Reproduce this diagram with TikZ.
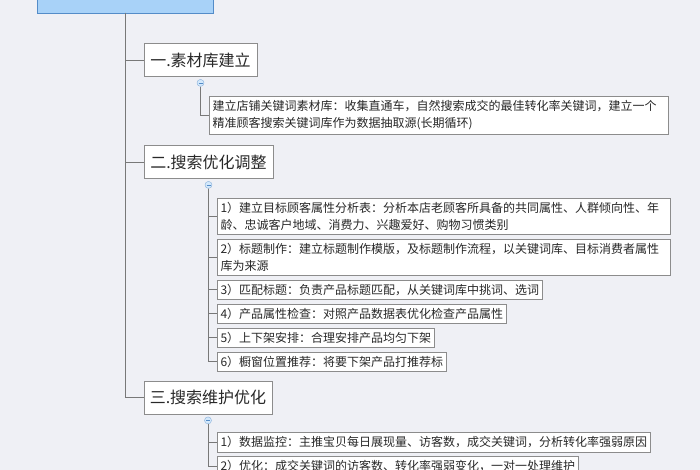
\documentclass[tikz,border=0pt]{standalone}
\usepackage{fontspec}
\setmainfont{Noto Sans CJK SC}
\usetikzlibrary{positioning,calc}
\definecolor{bgpage}{RGB}{239,240,245}
\definecolor{rootfill}{RGB}{168,210,248}
\definecolor{rootline}{RGB}{84,140,200}
\definecolor{boxline}{RGB}{140,140,140}
\definecolor{linkgray}{RGB}{120,120,120}
\definecolor{textgray}{RGB}{40,40,40}
\tikzset{main base/.style={draw=boxline,fill=white,text=textgray}, }
\tikzset{main node/.style={rectangle,main base,font=\fontsize{16}{16}\selectfont,
    inner xsep=6pt,minimum height=33pt}, }
\tikzset{main node2/.style={rectangle,main base,line width=1pt,
    font=\fontsize{12}{17}\selectfont,inner xsep=3pt,inner ysep=4pt,align=left}, }
\tikzset{wide/.style={text width=#1}, }
\tikzset{linea/.style={draw=linkgray,thick}}
\tikzset{primo/.style={circle,draw=rootline!70,fill=rootfill!50,inner sep=0pt,minimum size=7pt,
    path picture={\draw[rootline,line width=0.5pt] ([xshift=-2pt]path picture bounding box.center)
      -- ([xshift=2pt]path picture bounding box.center);}}, }

\begin{document}
\begin{tikzpicture}[x=1pt,y=-1pt]
  \useasboundingbox (0,0) rectangle (700,470);
  \clip (0,0) rectangle (700,470);
  \fill[bgpage] (0,0) rectangle (700,470);
  % root (cut at the top)
  \node[draw=rootline,fill=rootfill,minimum width=176pt,minimum height=40pt,anchor=south] (0) at (125,13) {};
  % headings
  \node[main node] (h1) at (200.5,60) {一.素材库建立};
  \node[main node] (h2) at (208.5,162) {二.搜索优化调整};
  \node[main node] (h3) at (208,397.5) {三.搜索维护优化};
  \node[primo] (c1) [below=2.5pt of h1] {};
  \node[primo] (c2) [below=2.5pt of h2] {};
  \node[primo] (c3) [below=2.5pt of h3] {};
  % details
  \node[main node2,wide=453pt,anchor=north west] (d11) at (209,96)
    {建立店铺关键词素材库：收集直通车，自然搜索成交的最佳转化率关键词，建立一个\\精准顾客搜索关键词库作为数据抽取源(长期循环)};
  \node[main node2,wide=447pt,anchor=north west] (d21) at (217,198)
    {1）建立目标顾客属性分析表：分析本店老顾客所具备的共同属性、人群倾向性、年\\龄、忠诚客户地域、消费力、兴趣爱好、购物习惯类别};
  \node[main node2,wide=447pt] (d22) [below=3.5pt of d21.south west,anchor=north west]
    {2）标题制作：建立标题制作模版，及标题制作流程，以关键词库、目标消费者属性\\库为来源};
  \node[main node2] (d23) [below=3.5pt of d22.south west,anchor=north west] {3）匹配标题：负责产品标题匹配，从关键词库中挑词、选词};
  \node[main node2] (d24) [below=3.5pt of d23.south west,anchor=north west] {4）产品属性检查：对照产品数据表优化检查产品属性};
  \node[main node2] (d25) [below=3.5pt of d24.south west,anchor=north west] {5）上下架安排：合理安排产品均匀下架};
  \node[main node2] (d26) [below=3.5pt of d25.south west,anchor=north west] {6）橱窗位置推荐：将要下架产品打推荐标};
  \node[main node2,anchor=north west] (d31) at (217,432) {1）数据监控：主推宝贝每日展现量、访客数，成交关键词，分析转化率强弱原因};
  \node[main node2] (d32) [below=3.5pt of d31.south west,anchor=north west] {2）优化：成交关键词的访客数、转化率强弱变化，一对一处理维护};
  % connectors
  \foreach \y in {h1,h2,h3}
    \draw[linea] (0.south) |- (\y.west);
  \foreach \x/\y in {c1/d11,c2/d21,c2/d22,c2/d23,c2/d24,c2/d25,c2/d26,c3/d31,c3/d32}
    \draw[linea] (\x.south) |- (\y.west);
\end{tikzpicture}
\end{document}
